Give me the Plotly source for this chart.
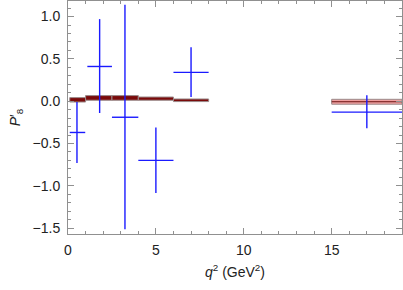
import plotly.graph_objects as go

# Experimental data (blue crosses)
exp_lo = [0.1, 1.1, 2.5, 4.0, 6.0, 15.0]
exp_hi = [0.98, 2.5, 4.0, 6.0, 8.0, 19.0]
exp_x = [0.51, 1.8, 3.24, 5.0, 7.0, 17.0]
exp_y = [-0.37, 0.41, -0.19, -0.70, 0.34, -0.13]
exp_up = [-0.01, 0.97, 1.14, -0.31, 0.636, 0.07]
exp_dn = [-0.73, -0.14, -1.515, -1.085, 0.05, -0.32]

# Theory predictions (bands)
th_lo_q = [0.1, 1.0, 2.5, 4.0, 6.0, 15.0]
th_hi_q = [1.0, 2.5, 4.0, 6.0, 8.0, 19.0]
th_top = [0.042, 0.066, 0.066, 0.049, 0.026, 0.022]
th_bot = [-0.01, 0.011, 0.011, 0.011, -0.005, -0.036]
th_mid = [0.016, 0.038, 0.038, 0.03, 0.01, -0.007]
th_fill = ["#7a0a0a", "#7a0a0a", "#7a0a0a", "#7a0a0a", "#7a0a0a", "#f0a0a0"]

fig = go.Figure()

for i in range(len(th_lo_q)):
    fig.add_trace(go.Scatter(
        x=[th_lo_q[i], th_hi_q[i], th_hi_q[i], th_lo_q[i], th_lo_q[i]],
        y=[th_bot[i], th_bot[i], th_top[i], th_top[i], th_bot[i]],
        mode="lines", fill="toself", fillcolor=th_fill[i],
        line=dict(color="#9a8a8a", width=1), hoverinfo="skip", showlegend=False))
    if i == len(th_lo_q) - 1:
        fig.add_trace(go.Scatter(
            x=[th_lo_q[i], th_hi_q[i]], y=[th_mid[i], th_mid[i]],
            mode="lines", line=dict(color="#6a1010", width=1.2),
            hoverinfo="skip", showlegend=False))

for i in range(len(exp_x)):
    fig.add_trace(go.Scatter(
        x=[exp_lo[i], exp_hi[i], None, exp_x[i], exp_x[i]],
        y=[exp_y[i], exp_y[i], None, exp_dn[i], exp_up[i]],
        mode="lines", line=dict(color="#1a1aff", width=1.4),
        hoverinfo="skip", showlegend=False))

axis_common = dict(
    showline=True, linecolor="#909090", linewidth=1, mirror="ticks",
    ticks="inside", tickcolor="#909090", ticklen=6, tickwidth=1,
    showgrid=False, zeroline=False, automargin=False,
    tickfont=dict(family="Liberation Sans, Arial", size=14, color="#222"),
)

fig.update_layout(
    width=403, height=290,
    margin=dict(l=68, r=1, t=1, b=56),
    paper_bgcolor="white", plot_bgcolor="white",
    xaxis=dict(range=[0, 19], tickvals=[0, 5, 10, 15], ticktext=["0", "5", "10", "15"],
               minor=dict(dtick=1, ticks="inside", ticklen=3, tickcolor="#909090"),
               ticklabelstandoff=3,
               title=dict(text="<i>q</i><sup>2</sup> (GeV<sup>2</sup>)",
                          font=dict(family="Liberation Sans, Arial", size=14, color="#222"),
                          standoff=10),
               **axis_common),
    yaxis=dict(range=[-1.57, 1.184], tickvals=[-1.5, -1.0, -0.5, 0.0, 0.5, 1.0],
               ticktext=["−1.5", "−1.0", "−0.5", "0.0", "0.5", "1.0"],
               minor=dict(dtick=0.1, ticks="inside", ticklen=3, tickcolor="#909090"),
               ticklabelstandoff=4,
               title=dict(text="<i>P</i>′<sub>8</sub>",
                          font=dict(family="Liberation Sans, Arial", size=14, color="#222"),
                          standoff=8),
               **axis_common),
)

fig.write_html("out.html", config={"displayModeBar": False},
               post_script="document.body.style.margin='0';")
